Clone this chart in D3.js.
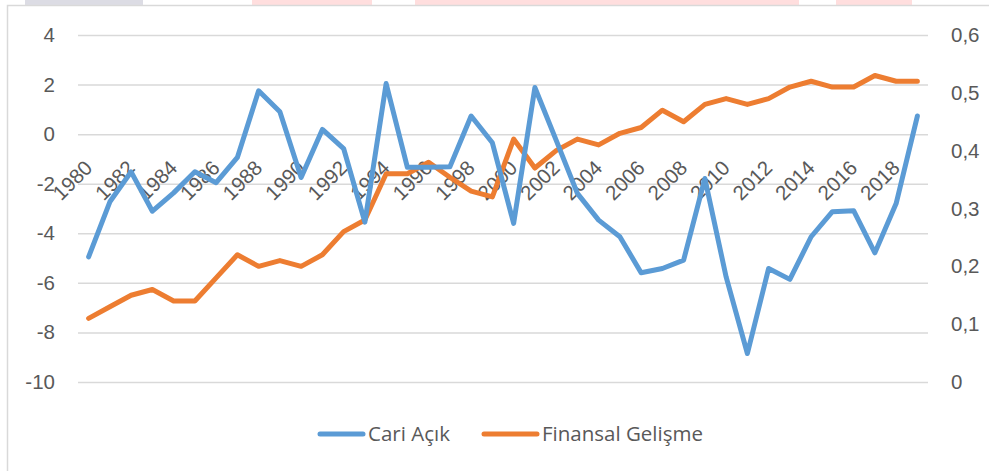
<!DOCTYPE html>
<html>
<head>
<meta charset="utf-8">
<script src="https://cdn.jsdelivr.net/npm/d3@7"></script>
<style>
  body { margin: 0; background: #fff; }
  svg { display: block; font-family: "Open Sans", "Liberation Sans", sans-serif; }
</style>
</head>
<body>
<div id="chart"></div>
<script>
// yillar 1980-2019
const years = d3.range(1980, 2020);

// Cari Açık (sol eksen)
const cariAcik = [
  -4.95, -2.73, -1.52, -3.11, -2.37, -1.52, -1.96, -0.94, 1.75, 0.90,
  -1.75, 0.19, -0.58, -3.55, 2.04, -1.34, -1.34, -1.32, 0.73, -0.35,
  -3.60, 1.88, -0.24, -2.39, -3.47, -4.14, -5.59, -5.42, -5.08, -1.79,
  -5.76, -8.85, -5.42, -5.86, -4.14, -3.13, -3.09, -4.79, -2.80, 0.73
];

// Finansal Gelişme (sag eksen)
const finansal = [
  0.11, 0.13, 0.15, 0.16, 0.14, 0.14, 0.18, 0.22, 0.20, 0.21,
  0.20, 0.22, 0.26, 0.28, 0.36, 0.36, 0.38, 0.354, 0.33, 0.32,
  0.42, 0.37, 0.40, 0.42, 0.41, 0.43, 0.44, 0.47, 0.45, 0.48,
  0.49, 0.48, 0.49, 0.51, 0.52, 0.51, 0.51, 0.53, 0.52, 0.52
];

const leftTicks = [-10, -8, -6, -4, -2, 0, 2, 4];
const rightTicks = [0, 0.1, 0.2, 0.3, 0.4, 0.5, 0.6];
const seriesNames = ["Cari Açık", "Finansal Gelişme"];
const colors = ["#5B9BD5", "#ED7D31"];

const width = 989;
const height = 471;
const plot = { left: 78, right: 928, top: 35, bottom: 382 };

const svg = d3.select("#chart")
    .append("svg")
    .attr("width", width)
    .attr("height", height);

// sayfanin ustunden kalan parcalar
const scraps = [
  { x: 25, w: 118, c: "#dcdce4" },
  { x: 252, w: 120, c: "#ffdede" },
  { x: 415, w: 384, c: "#ffdede" },
  { x: 836, w: 76, c: "#ffdede" }
];
svg.selectAll("rect.scrap")
    .data(scraps)
    .enter()
    .append("rect")
    .attr("class", "scrap")
    .attr("x", d => d.x)
    .attr("y", 0)
    .attr("width", d => d.w)
    .attr("height", 5)
    .attr("fill", d => d.c);

// grafik cercevesi
svg.append("rect")
    .attr("x", 7.5)
    .attr("y", 5.5)
    .attr("width", 1000)
    .attr("height", 500)
    .attr("fill", "#fff")
    .attr("stroke", "#d9d9d9")
    .attr("stroke-width", 1.5);

const x = d3.scaleBand()
    .domain(years)
    .range([plot.left, plot.right])
    .padding(0);

const yL = d3.scaleLinear()
    .domain([-10, 4])
    .range([plot.bottom, plot.top]);

const yR = d3.scaleLinear()
    .domain([0, 0.6])
    .range([plot.bottom, plot.top]);

const textColor = "#595959";
const fontSize = 20.5;

// izgara cizgileri
const grid = svg.append("g")
    .attr("transform", `translate(${plot.left},0)`)
    .call(d3.axisLeft(yL).tickValues(leftTicks).tickSize(-(plot.right - plot.left)).tickFormat(""));
grid.select(".domain").remove();
grid.selectAll("line")
    .attr("stroke", "#d9d9d9")
    .attr("stroke-width", 1.5);

// sol eksen (Excel gibi kisa cizgi)
const axL = svg.append("g")
    .attr("transform", `translate(55,0)`)
    .call(d3.axisLeft(yL).tickValues(leftTicks).tickSize(0).tickPadding(0).tickFormat(d => String(d)));
axL.select(".domain").remove();
axL.selectAll("text")
    .attr("fill", textColor)
    .attr("font-size", fontSize)
    .attr("font-family", null);

// sag eksen
const fmtR = d => d === 0 ? "0" : d3.format(".1f")(d).replace(".", ",");
const axR = svg.append("g")
    .attr("transform", `translate(951,0)`)
    .call(d3.axisRight(yR).tickValues(rightTicks).tickSize(0).tickPadding(0).tickFormat(fmtR));
axR.select(".domain").remove();
axR.selectAll("text")
    .attr("fill", textColor)
    .attr("font-size", fontSize)
    .attr("font-family", null);

// yatay eksen (0 cizgisinde)
const axX = svg.append("g")
    .attr("transform", `translate(0,${yL(0)})`)
    .call(d3.axisBottom(x).tickValues(years.filter(y => y % 2 === 0)).tickSize(0));
axX.select(".domain").remove();
axX.selectAll("text")
    .attr("fill", textColor)
    .attr("font-size", fontSize)
    .attr("font-family", null)
    .attr("text-anchor", "end")
    .attr("x", 0)
    .attr("y", 0)
    .attr("dy", 0)
    .attr("transform", "translate(5,35) rotate(-45)");

// seriler
const lineL = d3.line()
    .x((d, i) => x(years[i]) + x.bandwidth() / 2)
    .y(d => yL(d));

const lineR = d3.line()
    .x((d, i) => x(years[i]) + x.bandwidth() / 2)
    .y(d => yR(d));

svg.append("path")
    .datum(finansal)
    .attr("d", lineR)
    .attr("fill", "none")
    .attr("stroke", colors[1])
    .attr("stroke-width", 5)
    .attr("stroke-linejoin", "round")
    .attr("stroke-linecap", "round");

svg.append("path")
    .datum(cariAcik)
    .attr("d", lineL)
    .attr("fill", "none")
    .attr("stroke", colors[0])
    .attr("stroke-width", 5)
    .attr("stroke-linejoin", "round")
    .attr("stroke-linecap", "round");

// lejant
const legendItems = [
  { name: seriesNames[0], color: colors[0], x1: 320, x2: 363 },
  { name: seriesNames[1], color: colors[1], x1: 484, x2: 537 }
];
const legend = svg.append("g");
legend.selectAll("line")
    .data(legendItems)
    .enter()
    .append("line")
    .attr("x1", d => d.x1)
    .attr("x2", d => d.x2)
    .attr("y1", 434)
    .attr("y2", 434)
    .attr("stroke", d => d.color)
    .attr("stroke-width", 5)
    .attr("stroke-linecap", "round");
legend.selectAll("text")
    .data(legendItems)
    .enter()
    .append("text")
    .attr("x", d => d.x2 + 5)
    .attr("y", 434)
    .attr("dy", "0.35em")
    .attr("fill", textColor)
    .attr("font-size", fontSize)
    .text(d => d.name);
</script>
</body>
</html>
